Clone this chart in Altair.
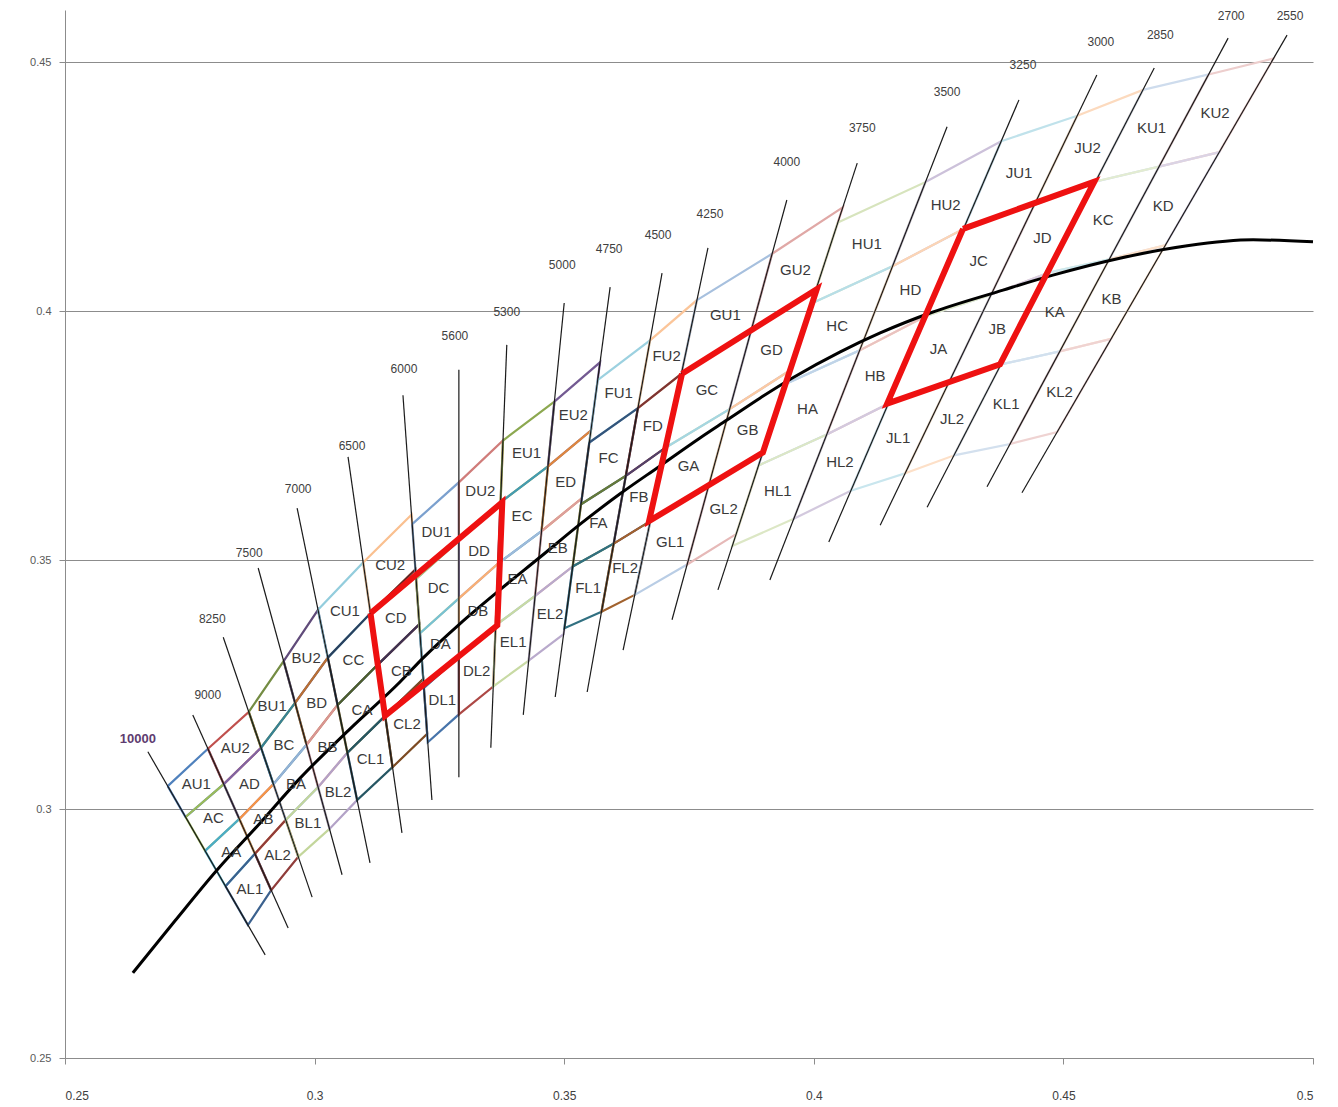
import altair as alt
import pandas as pd

# ---------------- data ----------------
iso_labels = ["10000", "9000", "8250", "7500", "7000", "6500", "6000", "5600", "5300", "5000",
              "4750", "4500", "4250", "4000", "3750", "3500", "3250", "3000", "2850", "2700", "2550"]
iso_top_x = [0.2666, 0.2756, 0.2817, 0.2887, 0.2965, 0.3067, 0.3177, 0.3289, 0.3385, 0.3500,
             0.3592, 0.3696, 0.3788, 0.3946, 0.4087, 0.4267, 0.4411, 0.4567, 0.4682, 0.4830, 0.4948]
iso_top_y = [0.3115, 0.3189, 0.3345, 0.3484, 0.3604, 0.3707, 0.3831, 0.3882, 0.3932, 0.4016,
             0.4048, 0.4076, 0.4127, 0.4223, 0.4297, 0.4370, 0.4424, 0.4474, 0.4488, 0.4548, 0.4554]
iso_bot_x = [0.2901, 0.2947, 0.2995, 0.3055, 0.3111, 0.3175, 0.3235, 0.3289, 0.3353, 0.3418,
             0.3482, 0.3546, 0.3618, 0.3716, 0.3808, 0.3912, 0.4030, 0.4133, 0.4227, 0.4347, 0.4417]
iso_bot_y = [0.2707, 0.2761, 0.2823, 0.2868, 0.2892, 0.2952, 0.3018, 0.3064, 0.3123, 0.3189,
             0.3225, 0.3235, 0.3319, 0.3380, 0.3440, 0.3460, 0.3536, 0.3570, 0.3606, 0.3647, 0.3635]
iso_lab_x = [0.2646, 0.2786, 0.2795, 0.2869, 0.2967, 0.3075, 0.3179, 0.3281, 0.3385, 0.3496,
             0.3590, 0.3688, 0.3792, 0.3946, 0.4097, 0.4267, 0.4419, 0.4575, 0.4694, 0.4836, 0.4954]
iso_lab_y = [0.3141, 0.3229, 0.3382, 0.3514, 0.3643, 0.3729, 0.3884, 0.3950, 0.3998, 0.4092,
             0.4125, 0.4153, 0.4195, 0.4299, 0.4368, 0.4440, 0.4494, 0.4540, 0.4554, 0.4592, 0.4592]

# Planckian locus (black curve)
locus_x = [0.2636, 0.2720, 0.2805, 0.2891, 0.2971, 0.3071, 0.3171, 0.3217, 0.3291, 0.3371,
           0.3452, 0.3532, 0.3612, 0.3692, 0.3772, 0.3826, 0.3892, 0.3958, 0.4053, 0.4133,
           0.4233, 0.4379, 0.4479, 0.4613, 0.4748, 0.4880, 0.5000]
locus_y = [0.2671, 0.2775, 0.2878, 0.2972, 0.3062, 0.3161, 0.3255, 0.3303, 0.3372, 0.3440,
           0.3506, 0.3572, 0.3633, 0.3689, 0.3745, 0.3781, 0.3825, 0.3866, 0.3918, 0.3956,
           0.3996, 0.4042, 0.4072, 0.4106, 0.4131, 0.4143, 0.4139]

# bin groups: each spans three isotherm lines (left, middle, right)
group_names = ["A", "B", "C", "D", "E", "F", "G", "H", "J", "K"]
# boundary y-values on the left / middle / right isotherm of each group
# (top of U row, top of quadrangle, centre line, bottom of quadrangle, bottom of L row)
rails_A = [[0.3046, 0.2984, 0.2916, 0.2845, 0.2767], [0.3121, 0.3050, 0.2980, 0.2910, 0.2837], [0.3195, 0.3123, 0.3050, 0.2978, 0.2904]]
rails_B = [[0.3195, 0.3123, 0.3050, 0.2978, 0.2904], [0.3297, 0.3213, 0.3129, 0.3044, 0.2960], [0.3400, 0.3304, 0.3209, 0.3113, 0.3018]]
rails_C = [[0.3400, 0.3304, 0.3209, 0.3113, 0.3018], [0.3495, 0.3393, 0.3290, 0.3187, 0.3084], [0.3591, 0.3481, 0.3371, 0.3261, 0.3151]]
rails_D = [[0.3572, 0.3462, 0.3353, 0.3243, 0.3134], [0.3656, 0.3539, 0.3423, 0.3306, 0.3190], [0.3740, 0.3616, 0.3493, 0.3369, 0.3246]]
rails_E = [[0.3740, 0.3616, 0.3493, 0.3369, 0.3246], [0.3818, 0.3688, 0.3558, 0.3428, 0.3298], [0.3897, 0.3760, 0.3624, 0.3487, 0.3351]]
rails_F = [[0.3861, 0.3736, 0.3612, 0.3487, 0.3363], [0.3941, 0.3805, 0.3669, 0.3533, 0.3396], [0.4022, 0.3874, 0.3726, 0.3578, 0.3430]]
rails_G = [[0.4022, 0.3874, 0.3726, 0.3578, 0.3430], [0.4115, 0.3959, 0.3803, 0.3647, 0.3491], [0.4208, 0.4044, 0.3880, 0.3716, 0.3552]]
rails_H = [[0.4178, 0.4015, 0.3853, 0.3690, 0.3528], [0.4259, 0.4090, 0.3921, 0.3752, 0.3583], [0.4341, 0.4165, 0.3990, 0.3814, 0.3639]]
rails_J = [[0.4341, 0.4165, 0.3990, 0.3814, 0.3639], [0.4392, 0.4213, 0.4033, 0.3854, 0.3674], [0.4444, 0.4260, 0.4077, 0.3893, 0.3710]]
rails_K = [[0.4444, 0.4260, 0.4077, 0.3893, 0.3710], [0.4475, 0.4290, 0.4104, 0.3919, 0.3733], [0.4507, 0.4319, 0.4132, 0.3944, 0.3757]]
group_rails = dict(A=rails_A, B=rails_B, C=rails_C, D=rails_D, E=rails_E,
                   F=rails_F, G=rails_G, H=rails_H, J=rails_J, K=rails_K)
rows_left = ["U1", "C", "A", "L1"]
rows_right = ["U2", "D", "B", "L2"]

# red highlighted regions
red1_x = [0.3112, 0.3376, 0.3366, 0.3141]
red1_y = [0.3393, 0.3616, 0.3369, 0.3187]
red2_x = [0.3736, 0.4006, 0.3898, 0.3670]
red2_y = [0.3874, 0.4044, 0.3716, 0.3578]
red3_x = [0.4299, 0.4562, 0.4373, 0.4147]
red3_y = [0.4165, 0.4260, 0.3893, 0.3814]

x_ticks = [0.25, 0.3, 0.35, 0.4, 0.45, 0.5]
y_ticks = [0.25, 0.3, 0.35, 0.4, 0.45]

# ---------------- styling helpers ----------------
base_rgb = [(79, 129, 189), (192, 80, 77), (155, 187, 89), (128, 100, 162), (75, 172, 198), (247, 150, 70)]
mods = [("b", 0), ("d", 0.25), ("l", 0.4), ("d", 0.5), ("l", 0.25), ("d", 0.1), ("l", 0.45),
        ("d", 0.35), ("l", 0.5), ("l", 0.6), ("l", 0.65), ("l", 0.7), ("l", 0.72), ("l", 0.75)]


def cell_color(n):
    r, g, b = base_rgb[n % 6]
    m, f = mods[(n // 6) % len(mods)]
    if m == "d":
        r, g, b = [c * (1 - f) for c in (r, g, b)]
    elif m == "l":
        r, g, b = [c + (255 - c) * f for c in (r, g, b)]
    return "#%02x%02x%02x" % (int(round(r)), int(round(g)), int(round(b)))


def line_x(i, y):
    return iso_top_x[i] + (iso_bot_x[i] - iso_top_x[i]) * (y - iso_top_y[i]) / (iso_bot_y[i] - iso_top_y[i])


# ---------------- build tables ----------------
cell_rows, label_rows, names, colors = [], [], [], []
n = 0
for gi, g in enumerate(group_names):
    rails = group_rails[g]
    for r in range(4):
        for c in range(2):
            li, ri = 2 * gi + c, 2 * gi + c + 1
            yl, yr = rails[c], rails[c + 1]
            pts = [(line_x(li, yl[r]), yl[r]), (line_x(ri, yr[r]), yr[r]),
                   (line_x(ri, yr[r + 1]), yr[r + 1]), (line_x(li, yl[r + 1]), yl[r + 1])]
            name = g + (rows_left if c == 0 else rows_right)[r]
            for k, (x, y) in enumerate(pts + [pts[0]]):
                cell_rows.append(dict(cell=name, k=k, x=x, y=y))
            label_rows.append(dict(lab=name, x=sum(p[0] for p in pts) / 4, y=sum(p[1] for p in pts) / 4))
            names.append(name)
            colors.append(cell_color(n))
            n += 1
cells_df = pd.DataFrame(cell_rows)
cell_lab_df = pd.DataFrame(label_rows)

iso_rows = []
for i, lab in enumerate(iso_labels):
    iso_rows.append(dict(iso=lab, k=0, x=iso_top_x[i], y=iso_top_y[i]))
    iso_rows.append(dict(iso=lab, k=1, x=iso_bot_x[i], y=iso_bot_y[i]))
iso_df = pd.DataFrame(iso_rows)
iso_lab_df = pd.DataFrame(dict(lab=iso_labels, x=iso_lab_x, y=iso_lab_y))

locus_df = pd.DataFrame(dict(k=list(range(len(locus_x))), x=locus_x, y=locus_y))

red_rows = []
for rid, (xs, ys) in enumerate([(red1_x, red1_y), (red2_x, red2_y), (red3_x, red3_y)]):
    for k in range(5):
        red_rows.append(dict(rid=rid, k=k, x=xs[k % 4], y=ys[k % 4]))
red_df = pd.DataFrame(red_rows)

# ---------------- chart ----------------
xscale = alt.Scale(domain=[0.25, 0.5], nice=False, zero=False)
yscale = alt.Scale(domain=[0.25, 0.46045], nice=False, zero=False)
xaxis = alt.Axis(values=x_ticks, format="~g", grid=False, title=None, tickSize=6,
                 labelPadding=26, labelFontSize=12, labelColor="#404040",
                 domainColor="#8c8c8c", tickColor="#8c8c8c", labelFont="Liberation Sans")
yaxis = alt.Axis(values=y_ticks, format="~g", grid=True, gridColor="#8c8c8c", gridWidth=1,
                 title=None, tickSize=6, labelPadding=8, labelFontSize=11, labelColor="#595959",
                 domainColor="#8c8c8c", tickColor="#8c8c8c", minExtent=57, maxExtent=57,
                 labelFont="Liberation Sans")


def X():
    return alt.X("x:Q", scale=xscale, axis=xaxis)


def Y():
    return alt.Y("y:Q", scale=yscale, axis=yaxis)


cells = alt.Chart(cells_df).mark_line(strokeWidth=2.2, clip=True).encode(
    x=X(), y=Y(), order="k:Q", detail="cell:N",
    color=alt.Color("cell:N", scale=alt.Scale(domain=names, range=colors), legend=None))

isos = alt.Chart(iso_df).mark_line(color="#1a1a1a", strokeWidth=1.2).encode(
    x=X(), y=Y(), order="k:Q", detail="iso:N")

locus = alt.Chart(locus_df).mark_line(color="#000000", strokeWidth=3, interpolate="monotone").encode(
    x=X(), y=Y(), order="k:Q")

reds = alt.Chart(red_df).mark_line(color="#ee1111", strokeWidth=6, strokeJoin="miter").encode(
    x=X(), y=Y(), order="k:Q", detail="rid:N")

cell_text = alt.Chart(cell_lab_df).mark_text(font="Liberation Sans", fontSize=15, color="#3a3a3a",
                                             align="center", baseline="middle").encode(
    x=X(), y=Y(), text="lab:N")

iso_text = alt.Chart(iso_lab_df[iso_lab_df.lab != "10000"]).mark_text(
    font="Liberation Sans", fontSize=12, color="#404040", align="center", baseline="middle").encode(
    x=X(), y=Y(), text="lab:N")

iso_text_first = alt.Chart(iso_lab_df[iso_lab_df.lab == "10000"]).mark_text(
    font="Liberation Sans", fontSize=13, fontWeight="bold", color="#5e3c70",
    align="center", baseline="middle").encode(x=X(), y=Y(), text="lab:N")

chart = alt.layer(cells, isos, locus, reds, cell_text, iso_text, iso_text_first).properties(
    width=1248, height=1048, padding={"left": 0, "top": 2, "right": 10, "bottom": 5}
).configure_view(strokeWidth=0)

chart.save("out.html", embed_options={"renderer": "svg", "actions": False})
